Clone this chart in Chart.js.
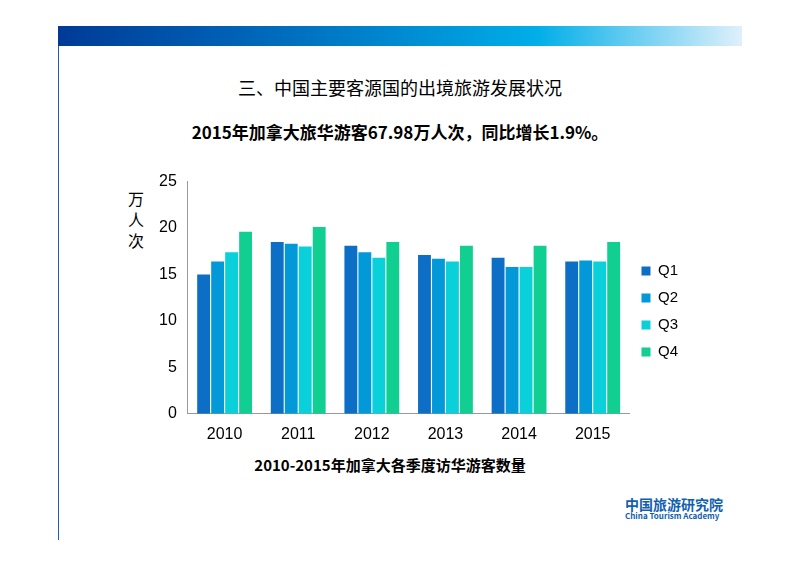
<!DOCTYPE html>
<html><head><meta charset="utf-8">
<script src="https://cdn.jsdelivr.net/npm/chart.js@4/dist/chart.umd.min.js"></script>
<style>
body{margin:0;width:800px;height:565px;background:#fff;position:relative;overflow:hidden;font-family:"Noto Sans CJK SC","Noto Sans",sans-serif}
#bar{position:absolute;left:58px;top:26px;width:684px;height:20px;background:linear-gradient(90deg,#003a96,#0070c0 35%,#00aee8 70%,#dff0fb)}
#vline{position:absolute;left:58px;top:46px;width:1px;height:494px;background:#1f5fb0}
.t{position:absolute;left:0;width:800px;text-align:center;color:#000}
#wrap{position:absolute;left:156px;top:169px;width:532px;height:278px}
#logo{position:absolute;left:625px;top:497px;font-weight:bold;color:#1060b0;font-size:14px;line-height:14px}
#logo small{display:block;font-size:8px;color:#1060b0;line-height:10px}
</style></head><body>
<div id="bar"></div><div id="vline"></div>
<div class="t" style="top:74px;font-size:18px">三、中国主要客源国的出境旅游发展状况</div>
<div class="t" style="top:119px;font-size:17px;font-weight:bold">2015年加拿大旅华游客67.98万人次，同比增长1.9%。</div>
<div class="t" style="top:454px;font-size:15px;font-weight:bold;left:-10px">2010-2015年加拿大各季度访华游客数量</div>
<div id="logo">中国旅游研究院<small>China Tourism Academy</small></div>
<div id="wrap"><canvas id="c"></canvas></div>
<script>
const categories=["2010","2011","2012","2013","2014","2015"];
const q1=[15.0,18.5,18.1,17.1,16.8,16.4];
const q2=[16.4,18.3,17.4,16.7,15.8,16.5];
const q3=[17.4,18.0,16.8,16.4,15.8,16.4];
const q4=[19.6,20.1,18.5,18.1,18.1,18.5];
const names=["Q1","Q2","Q3","Q4"];
const colors=["#0d6ec6","#0399d8","#0ad0da","#10cf91"];
const ds=[q1,q2,q3,q4].map((d,i)=>({label:names[i],data:d,backgroundColor:colors[i],categoryPercentage:0.76,barPercentage:0.92}));
new Chart(document.getElementById('c'),{type:'bar',data:{labels:categories,datasets:ds},
options:{responsive:true,maintainAspectRatio:false,animation:false,
layout:{padding:{left:0,right:0,top:7,bottom:0}},
plugins:{legend:{position:'right',labels:{boxWidth:9,boxHeight:9,font:{size:15},color:'#000',padding:12}},tooltip:{enabled:false}},
scales:{x:{grid:{display:false,drawTicks:true},border:{color:'#999'},ticks:{font:{size:16},color:'#000'}},
y:{min:0,max:25,ticks:{stepSize:5,font:{size:16},color:'#000'},grid:{display:false},border:{color:'#999'}}}}});
</script>
<div style="position:absolute;left:128px;top:188px;width:18px;font-size:16px;line-height:21px">万人次</div>
</body></html>
